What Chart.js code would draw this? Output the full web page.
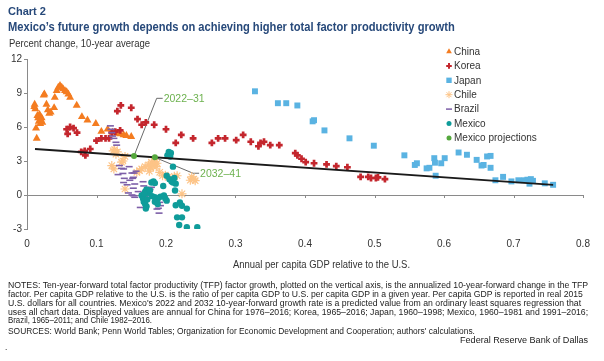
<!DOCTYPE html>
<html>
<head>
<meta charset="utf-8">
<script src="https://cdn.jsdelivr.net/npm/chart.js@4.4.1/dist/chart.umd.min.js"></script>
<style>
  html, body { margin: 0; padding: 0; background: #fff; }
  #wrap { position: relative; width: 604px; height: 361px; overflow: hidden;
          font-family: 'Liberation Sans', Arial, sans-serif; color: #222; }
  #wrap canvas { position: absolute; left: 0; top: 0; }
  .t { position: absolute; white-space: nowrap; line-height: 1; transform-origin: 0 50%; }
  .head { color: #27497a; font-weight: bold; }
  .note { font-size: 8.3px; color: #222; }
</style>
</head>
<body>
<div id="wrap">
  <canvas id="chart" width="604" height="361"></canvas>
  <div class="t head" style="left:8px; top:6px; font-size:11px;" data-w="38">Chart 2</div>
  <div class="t head" style="left:8px; top:21px; font-size:12px;" data-w="447">Mexico’s future growth depends on achieving higher total factor productivity growth</div>
  <div class="t" style="left:9px; top:39px; font-size:10px; color:#333;" data-w="141">Percent change, 10-year average</div>
  <div class="t" style="left:233px; top:260px; font-size:10px; color:#333;" data-w="177">Annual per capita GDP relative to the U.S.</div>
  <div class="t note" style="left:8px; top:281px;" data-w="580">NOTES: Ten-year-forward total factor productivity (TFP) factor growth, plotted on the vertical axis, is the annualized 10-year-forward change in the TFP</div>
  <div class="t note" style="left:8px; top:290px;" data-w="575">factor. Per capita GDP relative to the U.S. is the ratio of per capita GDP to U.S. per capita GDP in a given year. Per capita GDP is reported in real 2015</div>
  <div class="t note" style="left:8px; top:299px;" data-w="573">U.S. dollars for all countries. Mexico's 2022 and 2032 10-year-forward growth rate is a predicted value from an ordinary least squares regression that</div>
  <div class="t note" style="left:8px; top:307.5px;" data-w="580">uses all chart data. Displayed values are annual for China for 1976–2016; Korea, 1965–2016; Japan, 1960–1998; Mexico, 1960–1981 and 1991–2016;</div>
  <div class="t note" style="left:8px; top:316px;" data-w="144">Brazil, 1965–2011; and Chile 1982–2016.</div>
  <div class="t note" style="left:8px; top:327px;" data-w="467">SOURCES: World Bank; Penn World Tables; Organization for Economic Development and Cooperation; authors' calculations.</div>
  <div class="t note" style="left:460px; top:336px;" data-w="128">Federal Reserve Bank of Dallas</div>
  <div class="t note" style="left:5px; top:343px;">.</div>
</div>
<script>
// values: x = per capita GDP relative to U.S., y = 10-yr TFP growth
var chinaGdp = [0.0105, 0.011, 0.012, 0.013, 0.014, 0.015, 0.016, 0.017, 0.018, 0.019,
    0.020, 0.021, 0.022, 0.024, 0.025, 0.028, 0.030, 0.032, 0.034, 0.039,
    0.040, 0.0427, 0.045, 0.0475, 0.050, 0.052, 0.0547, 0.057, 0.0595, 0.062,
    0.0715, 0.079, 0.087, 0.099, 0.107, 0.116, 0.123, 0.129, 0.134, 0.139, 0.143, 0.150];
var chinaTfp = [7.8, 8.0, 7.6, 5.9, 5.0, 7.0, 6.8, 6.5, 7.1, 6.3,
    6.6, 6.8, 6.4, 8.8, 8.9, 8.0, 7.5, 7.2, 7.3, 7.7,
    8.6, 9.2, 9.5, 9.65, 9.5, 9.35, 9.2, 9.1, 8.9, 8.6,
    7.9, 6.9, 6.6, 6.3, 5.6, 5.8, 5.53, 5.44, 5.38, 5.3, 5.24, 5.15];

var koreaGdp = [0.057, 0.0585, 0.062, 0.067, 0.072, 0.078, 0.083, 0.084, 0.091,
    0.100, 0.107, 0.113, 0.118, 0.122, 0.127, 0.134, 0.130, 0.135, 0.150,
    0.159, 0.165, 0.171, 0.183, 0.200, 0.214, 0.222, 0.239, 0.266, 0.275, 0.285,
    0.301, 0.311, 0.322, 0.333, 0.336, 0.341, 0.350, 0.363,
    0.386, 0.389, 0.395, 0.401, 0.413, 0.431, 0.445, 0.461,
    0.480, 0.491, 0.495, 0.502, 0.505, 0.515];
var koreaTfp = [5.8, 5.4, 6.0, 5.9, 5.5, 3.8, 3.9, 3.5, 4.06,
    4.8, 5.0, 5.0, 5.0, 5.5, 5.6, 5.7, 7.4, 7.9, 7.7,
    6.7, 6.2, 6.4, 6.2, 5.8, 4.6, 5.3, 5.0, 4.6, 5.0, 5.0,
    4.85, 5.3, 4.7, 4.3, 4.6, 4.7, 4.4, 4.4,
    3.7, 3.5, 3.2, 2.9, 2.8, 2.7, 2.55, 2.45,
    1.6, 1.6, 1.5, 1.5, 1.55, 1.4];

var japanGdp = [0.328, 0.361, 0.373, 0.389, 0.411, 0.413, 0.428, 0.464, 0.499, 0.543,
    0.558, 0.561, 0.575, 0.579, 0.586, 0.587, 0.588, 0.596, 0.601, 0.621,
    0.633, 0.647, 0.654, 0.657, 0.662, 0.667, 0.667, 0.674, 0.685, 0.697,
    0.707, 0.715, 0.720, 0.723, 0.725, 0.728, 0.745, 0.757];
var japanTfp = [9.15, 8.1, 8.1, 7.9, 6.5, 6.6, 5.7, 5.0, 4.35, 3.5,
    2.65, 2.8, 2.35, 2.4, 3.25, 2.85, 1.7, 2.8, 3.25, 3.75,
    3.55, 3.1, 2.6, 2.65, 3.4, 3.45, 2.4, 1.3, 1.6, 1.2,
    1.3, 1.3, 1.35, 1.0, 1.4, 1.25, 1.03, 0.9];

var chileGdp = [0.124, 0.126, 0.128, 0.130, 0.122, 0.125, 0.136, 0.138, 0.141, 0.141,
    0.158, 0.162, 0.165, 0.170, 0.175, 0.179, 0.178, 0.181, 0.183, 0.184,
    0.186, 0.187, 0.176, 0.191, 0.195, 0.199, 0.203, 0.212, 0.216, 0.223,
    0.235, 0.237, 0.240, 0.242];
var chileTfp = [3.9, 4.0, 3.6, 3.8, 2.6, 2.3, 2.9, 3.0, 3.4, 0.53,
    2.0, 2.15, 2.3, 2.5, 2.65, 2.9, 2.4, 2.6, 2.7, 2.9,
    2.5, 2.8, 2.1, 2.0, 1.7, 1.75, 1.56, 1.65, 1.7, 0.1,
    1.3, 1.6, 1.4, 1.26];

var brazilGdp = [0.120, 0.121, 0.122, 0.123, 0.125, 0.128, 0.129, 0.136, 0.139, 0.138,
    0.140, 0.139, 0.151, 0.154, 0.152, 0.153, 0.167, 0.155, 0.168, 0.153,
    0.146, 0.151, 0.155, 0.166, 0.170, 0.179, 0.177, 0.163, 0.187, 0.189,
    0.190, 0.191, 0.192, 0.153, 0.144, 0.148, 0.160, 0.157, 0.133, 0.131, 0.147];
var brazilTfp = [6.1, 5.8, 5.5, 5.2, 5.0, 4.65, 4.4, 2.35, 2.3, 1.9,
    1.47, 1.1, 1.94, 1.94, 1.47, 1.56, 1.17, 0.97, 0.8, 0.6,
    0.18, 0.0, -0.2, 0.09, -0.1, 0.68, 0.5, -1.1, -1.24, -1.17,
    -1.6, -0.65, -0.94, -0.06, 0.9, 1.3, 0.3, 2.1, 2.6, 1.8, 2.5];

var mexicoGdp = [0.202, 0.204, 0.205, 0.207, 0.206, 0.210,
    0.201, 0.205, 0.208, 0.212, 0.214, 0.210, 0.179, 0.182, 0.184, 0.196, 0.213,
    0.167, 0.170, 0.172, 0.175, 0.177,
    0.165, 0.167, 0.168, 0.170, 0.172, 0.171, 0.173, 0.169,
    0.180, 0.184, 0.188, 0.192, 0.197, 0.199, 0.201, 0.184, 0.188,
    0.214, 0.220, 0.223, 0.230, 0.216, 0.223, 0.219, 0.230, 0.245];
var mexicoTfp = [3.5, 3.8, 3.6, 3.7, 3.4, 2.5,
    1.7, 1.4, 1.2, 1.5, 1.0, 1.1, 1.1, 1.2, 1.05, 0.8, 0.4,
    0.0, 0.3, 0.5, 0.2, 0.4,
    -0.05, -0.3, -0.6, -0.8, -1.0, -1.2, -0.4, 0.1,
    -0.1, -0.2, -0.35, -0.15, -0.05, -0.3, -0.5, -0.6, -0.8,
    -0.9, -0.65, -0.95, -1.2, -1.97, -1.97, -2.65, -2.85, -2.85];

var projGdp = [0.154, 0.184];
var projTfp = [3.45, 3.32];
var projLabels = ['2022–31', '2032–41'];
var projLabelGdp = [0.1866, 0.239];
var projLabelTfp = [8.53, 1.92];

var trendGdp = [0.0115, 0.757];
var trendTfp = [4.06, 0.9];

var xTicks = [0, 0.1, 0.2, 0.3, 0.4, 0.5, 0.6, 0.7, 0.8];

function pts(xs, ys) {
    return xs.map(function (v, i) { return { x: v, y: ys[i] }; });
}

var FONT = "'Liberation Sans', Arial, sans-serif";
var GREEN = '#6db24f';
var AXIS = '#8a8a8a';

// legend drawn at the right, as in the original
var sideLegend = {
    id: 'sideLegend',
    afterDraw: function (chart) {
        var ctx = chart.ctx;
        ctx.save();
        ctx.font = '10px ' + FONT;
        ctx.textBaseline = 'middle';
        chart.data.datasets.forEach(function (ds) {
            if (!ds.legend) {
                return;
            }
            var y = 51.5 + ds.legend.row * 14.4;
            ctx.fillStyle = ds.backgroundColor;
            ctx.strokeStyle = ds.borderColor;
            ctx.lineWidth = ds.legend.borderWidth;
            Chart.helpers.drawPoint(ctx, {
                pointStyle: ds.pointStyle,
                radius: ds.legend.radius,
                borderWidth: ds.legend.borderWidth,
                rotation: 0
            }, 449, y);
            ctx.fillStyle = '#333';
            ctx.fillText(ds.label, 454, y + 0.5);
        });
        ctx.restore();
    }
};

// zero-line ticks plus leader lines for the projection labels
var extras = {
    id: 'extras',
    beforeDatasetsDraw: function (chart) {
        var ctx = chart.ctx;
        var xs = chart.scales.x, ys = chart.scales.y;
        var zero = ys.getPixelForValue(0);
        ctx.save();
        ctx.strokeStyle = AXIS;
        ctx.lineWidth = 1;
        xTicks.forEach(function (v) {
            if (v === 0) return;
            var px = Math.round(xs.getPixelForValue(v)) + 0.5;
            ctx.beginPath();
            ctx.moveTo(px, zero);
            ctx.lineTo(px, zero + 3);
            ctx.stroke();
        });
        ctx.strokeStyle = '#6a6a6a';
        ctx.font = '10.5px ' + FONT;
        ctx.fillStyle = GREEN;
        ctx.textBaseline = 'middle';
        projLabels.forEach(function (lab, i) {
            var x0 = xs.getPixelForValue(projGdp[i]), y0 = ys.getPixelForValue(projTfp[i]);
            var x1 = xs.getPixelForValue(projLabelGdp[i]), y1 = ys.getPixelForValue(projLabelTfp[i]);
            ctx.beginPath();
            ctx.moveTo(x0, y0);
            ctx.lineTo(x1, y1);
            ctx.lineTo(x1 + 6, y1);
            ctx.stroke();
            ctx.fillText(lab, x1 + 7, y1 + 0.5);
        });
        ctx.restore();
    }
};

Chart.defaults.font.family = FONT;
Chart.defaults.font.size = 10;
Chart.defaults.color = '#333';

new Chart(document.getElementById('chart'), {
    type: 'scatter',
    data: {
        datasets: [
            {
                label: 'Mexico projections', data: pts(projGdp, projTfp), order: 0,
                pointStyle: 'circle', pointRadius: 3, backgroundColor: '#55a83d', borderColor: '#55a83d', borderWidth: 0,
                legend: { row: 6, radius: 2.5, borderWidth: 0 }
            },
            {
                label: '', data: pts(trendGdp, trendTfp), order: 1, showLine: true,
                pointRadius: 0, borderColor: '#1a1a1a', borderWidth: 1.8, backgroundColor: '#1a1a1a'
            },
            {
                label: 'Mexico', data: pts(mexicoGdp, mexicoTfp), order: 2,
                pointStyle: 'circle', pointRadius: 3.2, backgroundColor: '#0f9c9a', borderColor: '#0f9c9a', borderWidth: 0,
                legend: { row: 5, radius: 2.5, borderWidth: 0 }
            },
            {
                label: 'Brazil', data: pts(brazilGdp, brazilTfp), order: 3,
                pointStyle: 'line', pointRadius: 3.5, backgroundColor: '#7d5fa8', borderColor: '#7d5fa8', borderWidth: 1.6,
                legend: { row: 4, radius: 3, borderWidth: 1.5 }
            },
            {
                label: 'Chile', data: pts(chileGdp, chileTfp), order: 4,
                pointStyle: 'star', pointRadius: 4.5, backgroundColor: '#fdc487', borderColor: '#fdc487', borderWidth: 1.2,
                legend: { row: 3, radius: 3.5, borderWidth: 1 }
            },
            {
                label: 'Japan', data: pts(japanGdp, japanTfp), order: 5,
                pointStyle: 'rect', pointRadius: 4.2, backgroundColor: '#5ab3e2', borderColor: '#5ab3e2', borderWidth: 0,
                legend: { row: 2, radius: 3.8, borderWidth: 0 }
            },
            {
                label: 'Korea', data: pts(koreaGdp, koreaTfp), order: 6,
                pointStyle: 'cross', pointRadius: 3.4, backgroundColor: '#c4262d', borderColor: '#c4262d', borderWidth: 2.7,
                legend: { row: 1, radius: 2.8, borderWidth: 2 }
            },
            {
                label: 'China', data: pts(chinaGdp, chinaTfp), order: 7,
                pointStyle: 'triangle', pointRadius: 4.6, backgroundColor: '#f47c20', borderColor: '#f47c20', borderWidth: 0,
                legend: { row: 0, radius: 3.3, borderWidth: 0 }
            }
        ]
    },
    options: {
        responsive: false,
        animation: false,
        devicePixelRatio: 1,
        events: [],
        layout: { padding: { left: 0, top: 59, right: 21, bottom: 0 } },
        plugins: { legend: { display: false }, tooltip: { enabled: false } },
        scales: {
            x: {
                type: 'linear', min: 0, max: 0.8,
                afterBuildTicks: function (s) { s.ticks = xTicks.map(function (v) { return { value: v }; }); },
                afterFit: function (s) { s.height = 132; },
                grid: { display: false },
                border: { display: false },
                ticks: {
                    padding: 1, color: '#333', font: { size: 10 }, maxRotation: 0,
                    callback: function (v) { return v === 0 ? '0' : (Math.round(v * 10) / 10).toFixed(1); }
                }
            },
            y: {
                min: -3, max: 12,
                afterFit: function (s) { s.width = 27; },
                grid: {
                    color: function (c) { return c.tick && c.tick.value === 0 ? AXIS : 'rgba(0,0,0,0)'; },
                    tickColor: AXIS, tickLength: 3, lineWidth: 1
                },
                border: { display: true, color: AXIS, width: 1 },
                ticks: { stepSize: 3, padding: 2, color: '#333', font: { size: 10 } }
            }
        }
    },
    plugins: [extras, sideLegend]
});

// squeeze text lines to the widths of the original
document.querySelectorAll('.t[data-w]').forEach(function (el) {
    var w = el.getBoundingClientRect().width;
    var target = parseFloat(el.getAttribute('data-w'));
    if (w > 0) {
        el.style.transform = 'scaleX(' + (target / w).toFixed(3) + ')';
    }
});
</script>
</body>
</html>
